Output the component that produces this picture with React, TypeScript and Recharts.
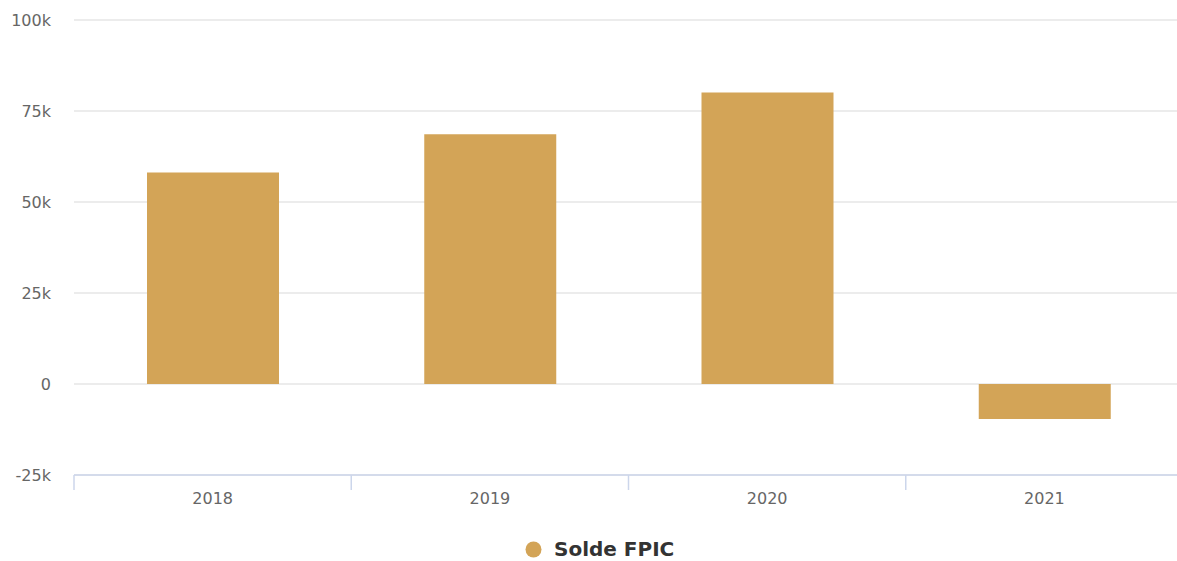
import React from 'react';
import { BarChart, Bar, XAxis, YAxis, CartesianGrid } from 'recharts';

const years = ['2018', '2019', '2020', '2021'];
const soldeFpic = [58100, 68600, 80100, -9600];
const yTicks = [-25000, 0, 25000, 50000, 75000, 100000];
const seriesName = 'Solde FPIC';
const barColor = '#d3a457';

const data = years.map((y, i) => ({ year: y, value: soldeFpic[i] }));

const W = 1177;
const H = 561;
const LEFT = 74;
const RIGHT = -6;
const BAND = (W - LEFT - RIGHT) / years.length;

const fmt = (v: number) => (v === 0 ? '0' : `${v / 1000}k`);
const FONT = '"DejaVu Sans", Verdana, sans-serif';

const XTick = (props: any) => {
  const { x, y, payload } = props;
  const bx = x - BAND / 2;
  return (
    <g>
      <line x1={bx} x2={bx} y1={y - 8} y2={y + 7} stroke="#ccd6eb" strokeWidth={1.5} />
      <text x={x} y={y + 21} textAnchor="middle" fill="#666666" fontSize={16} fontFamily={FONT}>
        {payload.value}
      </text>
    </g>
  );
};

export default function App() {
  return (
    <div style={{ position: 'absolute', left: 0, top: 0, width: W, height: H, background: '#fff', overflow: 'hidden' }}>
      <BarChart
        width={W}
        height={H}
        data={data}
        margin={{ top: 20, right: RIGHT, bottom: 56, left: 0 }}
        barSize={132}
      >
        <CartesianGrid vertical={false} stroke="#e6e6e6" strokeWidth={1.5} />
        <YAxis
          width={LEFT}
          domain={[-25000, 100000]}
          ticks={yTicks}
          tickFormatter={fmt}
          axisLine={false}
          tickLine={false}
          tickSize={0}
          tickMargin={23}
          tick={{ fill: '#666666', fontSize: 16, fontFamily: FONT }}
          interval={0}
        />
        <XAxis
          dataKey="year"
          axisLine={{ stroke: '#ccd6eb', strokeWidth: 1.5 }}
          tickLine={false}
          tick={<XTick />}
          interval={0}
        />
        <Bar dataKey="value" name={seriesName} fill={barColor} isAnimationActive={false} />
      </BarChart>
      <svg width={17} height={17} style={{ position: 'absolute', left: 525, top: 541 }}>
        <circle cx={8.5} cy={8.5} r={8} fill={barColor} />
      </svg>
      <span
        style={{
          position: 'absolute',
          left: 554,
          top: 537,
          fontFamily: FONT,
          fontWeight: 'bold',
          fontSize: 20,
          lineHeight: '24px',
          color: '#333333',
          whiteSpace: 'nowrap',
        }}
      >
        {seriesName}
      </span>
    </div>
  );
}
